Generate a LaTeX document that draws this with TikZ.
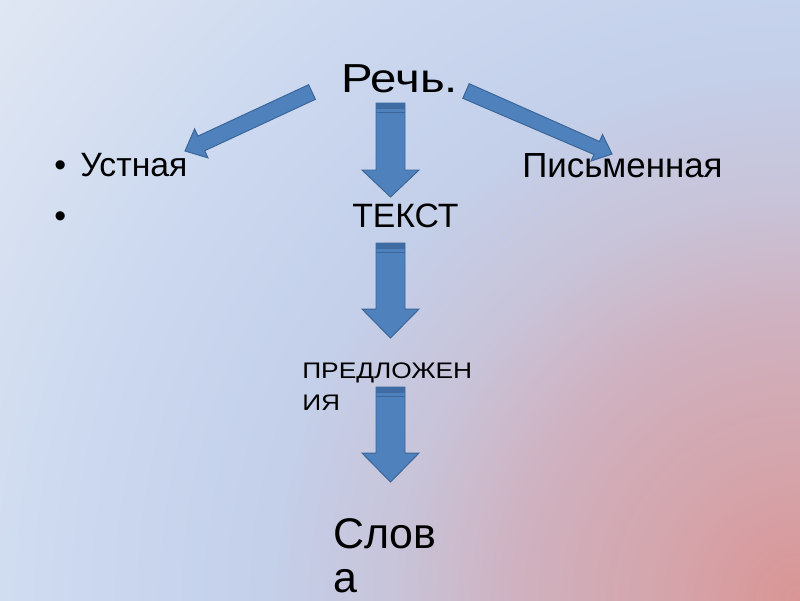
\documentclass[tikz,border=0pt]{standalone}
\usepackage{fontspec}
\setmainfont{Liberation Sans}
\definecolor{bgA}{HTML}{D99594}
\definecolor{bgB}{HTML}{D5A3A9}
\definecolor{bgC}{HTML}{CFB1BF}
\definecolor{bgD}{HTML}{C8C3D8}
\definecolor{bgE}{HTML}{C4D0EA}
\definecolor{bgF}{HTML}{CBD8EF}
\definecolor{bgG}{HTML}{E0E7F3}
\definecolor{arrowfill}{HTML}{4F81BD}
\definecolor{arrowline}{HTML}{3A6699}
\definecolor{arrowband}{HTML}{3D6BA2}
\pgfdeclareradialshading{bgshade}{\pgfpoint{0bp}{0bp}}{color(0bp)=(bgA); color(3bp)=(bgB); color(7bp)=(bgC); color(10bp)=(bgD); color(13.5bp)=(bgE); color(18bp)=(bgF); color(25bp)=(bgG); color(50bp)=(bgG)}
\tikzset{
  blockarrow/.style={fill=arrowfill, draw=arrowline, line width=0.7pt, line join=miter},
  label/.style={inner sep=0pt, anchor=base west, text=black},
}
\newcommand\blockdown[3]{%
  \draw[blockarrow] (376,#1) -- (405,#1) -- (405,#2) -- (419,#2) -- (390.5,#3) -- (362,#2) -- (376,#2) -- cycle;
  \fill[arrowband] (376.4,#1+0.4) rectangle (404.6,#1+6);
  \draw[arrowline, line width=0.8pt] (376.4,#1+9.5) -- (404.6,#1+9.5);
}
\begin{document}
\begin{tikzpicture}[x=0.025cm,y=-0.025cm]
\useasboundingbox (0,0) rectangle (800,600);
\begin{scope}
  \clip (0,0) rectangle (800,600);
  \shade[shading=bgshade] (800,600) circle[radius=1000];
\end{scope}

% texts
\node[label, font=\fontsize{28.8}{34}\selectfont] (rech) at (341,92) {\scalebox{1.17}[1]{Речь.}};
\node[label, font=\fontsize{24}{28}\selectfont] (b1) at (54,176) {•};
\node[label, font=\fontsize{24}{28}\selectfont] (ustn) at (80,176) {Устная};
\node[label, font=\fontsize{24.8}{28}\selectfont] (pism) at (522,177) {Письменная};
\node[label, font=\fontsize{24}{28}\selectfont] (b2) at (54,227) {•};
\node[label, font=\fontsize{24}{28}\selectfont] (tekst) at (352,227) {ТЕКСТ};
\node[label, font=\fontsize{16}{20}\selectfont] (pred1) at (302,378) {\scalebox{1.17}[1]{ПРЕДЛОЖЕН}};
\node[label, font=\fontsize{16}{20}\selectfont] (pred2) at (302,410) {\scalebox{1.17}[1]{ИЯ}};
\node[label, font=\fontsize{30.5}{36}\selectfont] (slov1) at (333,548) {Слов};
\node[label, font=\fontsize{30.5}{36}\selectfont, text depth=0pt] (slov2) at (333,592) {а};

% diagonal block arrows
\draw[blockarrow] (315.4,99.3) -- (308.6,84.7) -- (197.9,136.1) -- (194.6,128.9)
  -- (185,151) -- (208.0,157.9) -- (204.7,150.7) -- cycle;
\draw[blockarrow] (462.8,98.3) -- (469.2,83.7) -- (599.5,141.5) -- (602.5,134.5)
  -- (612,154) -- (591,161) -- (594,154.5) -- cycle;

% vertical block arrows
\blockdown{103}{170}{197}
\blockdown{243}{309}{338}
\blockdown{387}{453}{482}
\end{tikzpicture}
\end{document}
